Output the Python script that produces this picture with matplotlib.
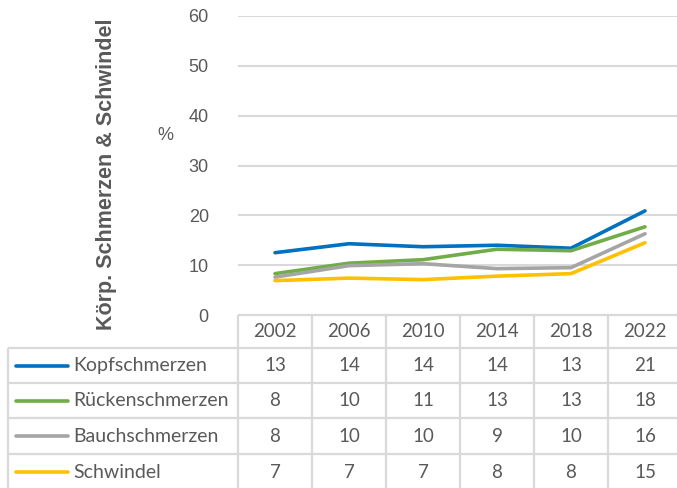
import matplotlib
matplotlib.use("Agg")
import matplotlib.pyplot as plt

# 数据
years = ["2002", "2006", "2010", "2014", "2018", "2022"]
series_names = ["Kopfschmerzen", "Rückenschmerzen", "Bauchschmerzen", "Schwindel"]
kopf = [12.5, 14.3, 13.7, 14.0, 13.4, 20.9]
ruecken = [8.3, 10.4, 11.1, 13.2, 12.9, 17.7]
bauch = [7.6, 9.9, 10.3, 9.3, 9.5, 16.3]
schwindel = [6.9, 7.4, 7.1, 7.8, 8.3, 14.5]
# Werte in der Datentabelle (gerundet)
table_vals = [
    [13, 14, 14, 14, 13, 21],
    [8, 10, 11, 13, 13, 18],
    [8, 10, 10, 9, 10, 16],
    [7, 7, 7, 8, 8, 15],
]
colors = ["#0070C0", "#70AD47", "#A5A5A5", "#FFC000"]

W, H = 677, 488
grid_c = "#D9D9D9"
txt_c = "#595959"

fig = plt.figure(figsize=(W / 100, H / 100), dpi=100)

# Zeichenfläche in Pixelkoordinaten
x0, x1 = 238, 682  # rechter Rand ist im Original abgeschnitten
y_top, y_bot = 16, 315
ax = fig.add_axes([x0 / W, 1 - y_bot / H, (x1 - x0) / W, (y_bot - y_top) / H])
for vals, c in zip([kopf, ruecken, bauch, schwindel], colors):
    ax.plot(range(len(years)), vals, color=c, lw=2.6, solid_capstyle="round", zorder=3)
ax.set_xlim(-0.5, len(years) - 0.5)
ax.set_ylim(0, 60)
ax.set_yticks(range(0, 61, 10))
ax.set_xticks([])
for s in ax.spines.values():
    s.set_visible(False)
ax.grid(axis="y", color=grid_c, lw=1.5)
ax.set_axisbelow(True)
ax.tick_params(axis="y", length=0, pad=21, labelsize=13, labelcolor=txt_c)
for lab in ax.get_yticklabels():
    lab.set_family("Liberation Sans")

# Overlay für Achsentitel und Datentabelle
ov = fig.add_axes([0, 0, 1, 1])
ov.set_xlim(0, W)
ov.set_ylim(H, 0)
ov.axis("off")

ov.text(107, 174, "Körp. Schmerzen & Schwindel", rotation=90, ha="center", va="center",
        fontsize=15.5, fontweight="bold", color=txt_c, family="Liberation Sans")
ov.text(165, 135, "%", ha="center", va="center", fontsize=13, color=txt_c,
        family="Liberation Sans")

# Tabelle
col_w = (x1 - x0) / len(years)
left = 8
row_edges = [315, 348, 383, 418, 454, 490]
lk = dict(color=grid_c, lw=1.6, solid_capstyle="butt")
ov.plot([x0, x1], [row_edges[0]] * 2, **lk)
for yy in row_edges[1:5]:
    ov.plot([left, x1], [yy, yy], **lk)
ov.plot([left, left], [row_edges[1], H], **lk)
for i in range(len(years) + 1):
    xx = x0 + i * col_w
    ov.plot([xx, xx], [row_edges[0], H], **lk)

fk = dict(family="Lato", fontsize=13.5, color=txt_c, va="center")
hy = (row_edges[0] + row_edges[1]) / 2
for i, yr in enumerate(years):
    ov.text(x0 + (i + 0.5) * col_w, hy, yr, ha="center", **fk)
for r, name in enumerate(series_names):
    cy = (row_edges[r + 1] + row_edges[r + 2]) / 2
    ov.plot([16, 68], [cy, cy], color=colors[r], lw=2.6, solid_capstyle="round")
    ov.text(73, cy, name, ha="left", **dict(fk, fontsize=14))
    for i, v in enumerate(table_vals[r]):
        ov.text(x0 + (i + 0.5) * col_w, cy, str(v), ha="center", **fk)

fig.savefig("out.png", dpi=100)
